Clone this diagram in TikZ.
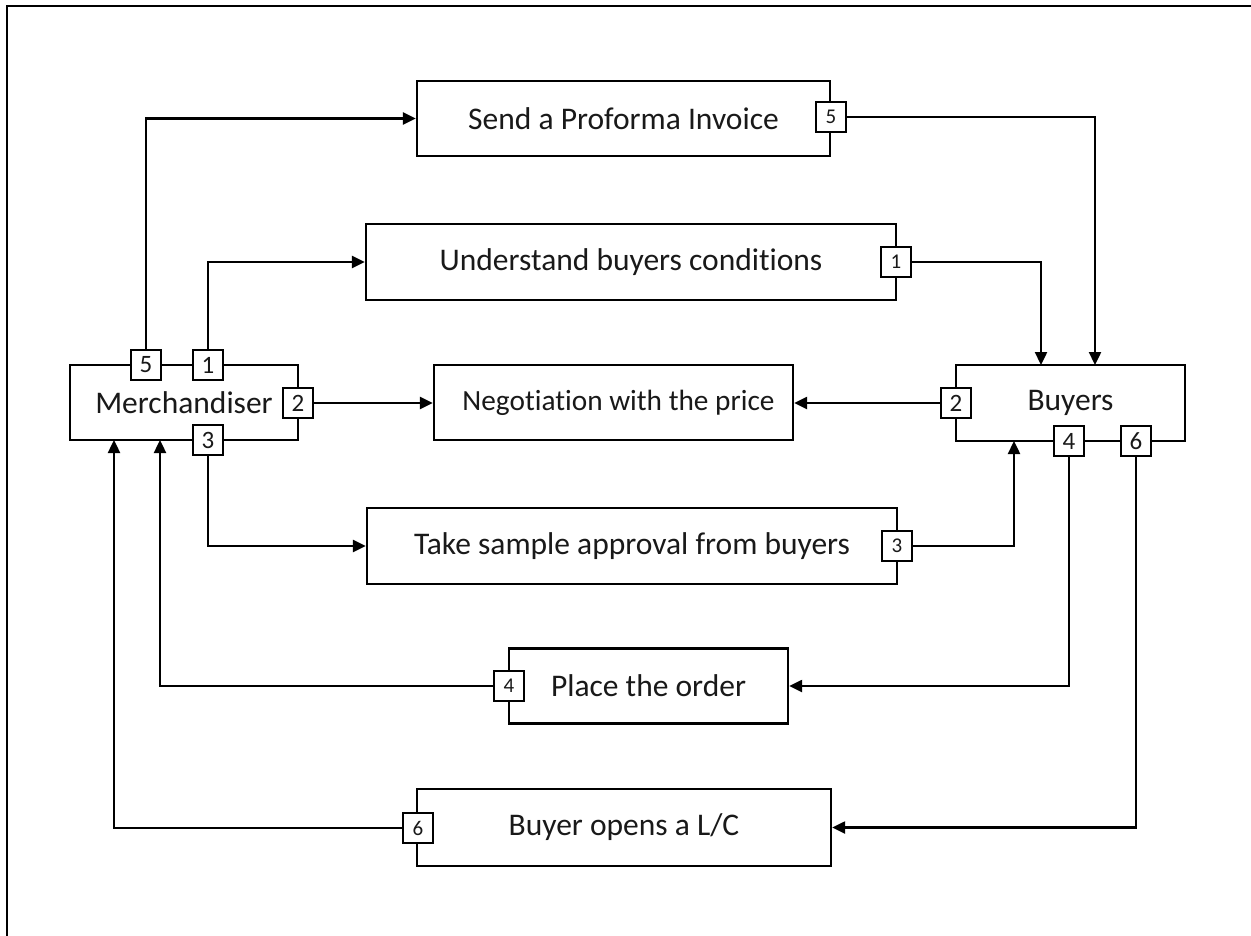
\documentclass[tikz,border=0pt]{standalone}
\usepackage{fontspec}
\setmainfont{Carlito}[Ligatures={NoCommon},RawFeature={-liga;-clig;-dlig}]
\usetikzlibrary{arrows.meta,calc}
\begin{document}
\begin{tikzpicture}[x=1pt,y=-1pt,
  box/.style={draw=black,line width=2.4pt,fill=white,inner sep=0pt,font=\fontsize{31.5}{35}\selectfont,text=black!90},
  tagbig/.style={draw=black,line width=2.4pt,fill=white,minimum size=30pt,inner sep=0pt,font=\fontsize{25}{27}\selectfont,text=black!90},
  tagsm/.style={draw=black,line width=2.4pt,fill=white,minimum size=30pt,inner sep=0pt,font=\fontsize{21}{23}\selectfont,text=black!90},
  conn/.style={line width=2.4pt,draw=black},
  arr/.style={conn,-{Triangle[length=13pt,width=12pt]}}]
\useasboundingbox (0,0) rectangle (1251,936);
\draw[line width=2.6pt] (7,940) -- (7,6) -- (1255,6);
% main boxes
\node[box,minimum width=228pt,minimum height=75pt] (mer) at (184,402.5) {Merchandiser};
\node[box,minimum width=229pt,minimum height=76pt] (buy) at (1070.5,403) {Buyers};
\node[box,minimum width=413pt,minimum height=75pt] (send) at (623.5,118.5) {Send a Proforma Invoice};
\node[box,minimum width=530pt,minimum height=76pt] (und) at (631,262) {Understand buyers conditions};
\node[box,minimum width=359pt,minimum height=75pt,font=\fontsize{29.3}{33}\selectfont] (neg) at (613.5,402.5) {\hspace*{10pt}Negotiation with the price};
\node[box,minimum width=530pt,minimum height=76pt] (take) at (632,546) {Take sample approval from buyers};
\node[box,minimum width=279pt,minimum height=75pt] (place) at (648.5,686) {Place the order};
\node[box,minimum width=414pt,minimum height=77pt] (lc) at (624,827.5) {Buyer opens a L/C};
% tags
\node[tagbig] (m5) at (146,365) {5};
\node[tagbig] (m1) at (208,365) {1};
\node[tagbig] (m2) at (298,403) {2};
\node[tagbig] (m3) at (208,440) {3};
\node[tagbig] (b2) at (956,403) {2};
\node[tagbig] (b4) at (1069,441) {4};
\node[tagbig] (b6) at (1136,441) {6};
\node[tagsm] (s5) at (831,117) {5};
\node[tagsm] (u1) at (896,262) {1};
\node[tagsm] (t3) at (897,546) {3};
\node[tagsm] (p4) at (509,686) {4};
\node[tagsm] (l6) at (418,828) {6};
% connector end coordinates
\coordinate (bin1) at (1041,365);
\coordinate (bin5) at (1095,365);
\coordinate (bout3) at (1014,441);
\coordinate (min4) at (160,440);
\coordinate (min6) at (114,440);
% connectors
\draw[arr] (m5.north) |- (send.west);
\draw[arr] (m1.north) |- (und.west);
\draw[arr] (s5.east) -| (bin5);
\draw[arr] (u1.east) -| (bin1);
\draw[arr] (m2.east) -- (m2.east -| neg.west);
\draw[arr] (b2.west) -- (b2.west -| neg.east);
\draw[arr] (m3.south) |- (take.west);
\draw[arr] (t3.east) -| (bout3);
\draw[arr] (b4.south) |- (place.east);
\draw[arr] (p4.west) -| (min4);
\draw[arr] (b6.south) |- (lc.east);
\draw[arr] (l6.west) -| (min6);
\end{tikzpicture}
\end{document}
